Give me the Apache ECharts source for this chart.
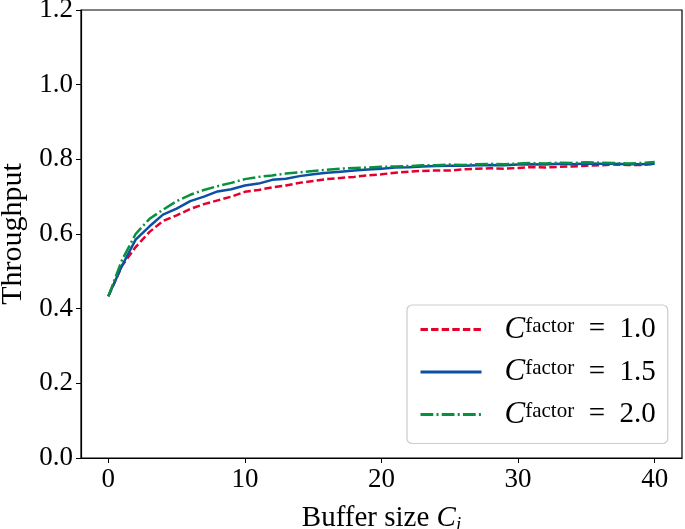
<!DOCTYPE html>
<html>
<head>
<meta charset="utf-8">
<script src="https://cdn.jsdelivr.net/npm/echarts@6/dist/echarts.min.js"></script>
<style>html,body{margin:0;padding:0;background:#fff;}#chart{width:685px;height:529px;}</style>
</head>
<body>
<div id="chart"></div>
<script>
var bufferSizes = [];
for (var i = 0; i <= 40; i++) bufferSizes.push(i);

var factor10 = [0.433,0.515,0.565,0.605,0.635,0.650,0.667,0.680,0.690,0.700,0.713,0.718,0.725,0.730,0.737,0.742,0.747,0.750,0.753,0.757,0.760,0.764,0.767,0.769,0.770,0.770,0.773,0.775,0.776,0.775,0.777,0.779,0.778,0.780,0.781,0.783,0.784,0.786,0.785,0.785,0.788];
var factor15 = [0.433,0.515,0.585,0.620,0.652,0.668,0.688,0.700,0.714,0.720,0.730,0.735,0.745,0.748,0.755,0.760,0.764,0.767,0.770,0.773,0.775,0.778,0.779,0.781,0.782,0.783,0.783,0.784,0.785,0.784,0.786,0.787,0.786,0.788,0.787,0.789,0.788,0.788,0.787,0.787,0.788];
var factor20 = [0.433,0.530,0.600,0.640,0.665,0.688,0.705,0.718,0.728,0.737,0.747,0.753,0.757,0.762,0.765,0.769,0.772,0.775,0.777,0.778,0.780,0.781,0.782,0.784,0.784,0.786,0.785,0.787,0.788,0.787,0.789,0.790,0.789,0.791,0.790,0.792,0.791,0.790,0.789,0.790,0.793];

var seriesNames = ['1.0', '1.5', '2.0'];
var xTicks = [0, 10, 20, 30, 40];

var FONT = 'Liberation Serif';
function pairs(ys) { return bufferSizes.map(function (x, k) { return [x, ys[k]]; }); }

var chart = echarts.init(document.getElementById('chart'), null, {renderer: 'canvas'});
chart.setOption({
  animation: false,
  backgroundColor: '#fff',
  grid: {left: 81, right: 3, top: 10, bottom: 71, containLabel: false, outerBoundsMode: 'none',
         show: true, borderColor: '#000', borderWidth: 1.2, backgroundColor: 'transparent'},
  xAxis: {
    type: 'value', min: -2, max: 42,
    axisLine: {show: true, onZero: false, lineStyle: {color: '#000', width: 1.2}},
    axisTick: {show: true, length: 5, customValues: xTicks, lineStyle: {color: '#000', width: 1}},
    axisLabel: {customValues: xTicks, color: '#000', fontFamily: FONT, fontSize: 27, margin: 8},
    splitLine: {show: false},
    name: '{n|Buffer size }{c|C}{s|i}',
    nameLocation: 'middle', nameGap: 45,
    nameTextStyle: {
      color: '#000', fontFamily: FONT, fontSize: 29,
      rich: {
        n: {fontFamily: FONT, fontSize: 29, color: '#000'},
        c: {fontFamily: FONT, fontSize: 29, fontStyle: 'italic', color: '#000'},
        s: {fontFamily: FONT, fontSize: 19, fontStyle: 'italic', color: '#000', padding: [12, 0, 0, 0]}
      }
    }
  },
  yAxis: {
    type: 'value', min: 0, max: 1.2, interval: 0.2,
    axisLine: {show: true, onZero: false, lineStyle: {color: '#000', width: 1.2}},
    axisTick: {show: true, length: 5, lineStyle: {color: '#000', width: 1}},
    axisLabel: {color: '#000', fontFamily: FONT, fontSize: 27, margin: 8, formatter: function (v) { return v.toFixed(1); }},
    splitLine: {show: false},
    name: 'Throughput', nameLocation: 'middle', nameGap: 48,
    nameTextStyle: {color: '#000', fontFamily: FONT, fontSize: 30}
  },
  legend: {
    orient: 'vertical', left: 407, top: 305,
    backgroundColor: '#fff', borderColor: '#cccccc', borderWidth: 1.2, borderRadius: 5,
    padding: [9, 12, 10, 12],
    itemWidth: 61, itemHeight: 14, itemGap: 8,
    itemStyle: {opacity: 0},
    lineStyle: {width: 3},
    data: seriesNames.map(function (n) { return 'C = ' + n; }),
    formatter: function (name) { return '{c|C}{s|factor}{e|  =  ' + name.slice(4) + '}'; },
    textStyle: {
      color: '#000', fontFamily: FONT, fontSize: 27, padding: [0, 0, 0, 18],
      rich: {
        c: {fontFamily: FONT, fontSize: 31, fontStyle: 'italic', color: '#000', lineHeight: 28},
        s: {fontFamily: FONT, fontSize: 21, color: '#000', verticalAlign: 'top', lineHeight: 28, padding: [0, 0, 12, 0]},
        e: {fontFamily: FONT, fontSize: 29, color: '#000', lineHeight: 28}
      }
    }
  },
  series: [
    {name: 'C = ' + seriesNames[0], type: 'line', data: pairs(factor10), showSymbol: false, symbol: 'none',
     lineStyle: {color: '#e4002b', width: 2.5, type: [7.4, 3.2]}, itemStyle: {color: '#e4002b'}, z: 3},
    {name: 'C = ' + seriesNames[1], type: 'line', data: pairs(factor15), showSymbol: false, symbol: 'none',
     lineStyle: {color: '#0d4fa3', width: 2.5, type: 'solid'}, itemStyle: {color: '#0d4fa3'}, z: 4},
    {name: 'C = ' + seriesNames[2], type: 'line', data: pairs(factor20), showSymbol: false, symbol: 'none',
     lineStyle: {color: '#07913f', width: 2.5, type: [12.8, 3.2, 2, 3.2]}, itemStyle: {color: '#07913f'}, z: 5}
  ]
});
</script>
</body>
</html>
